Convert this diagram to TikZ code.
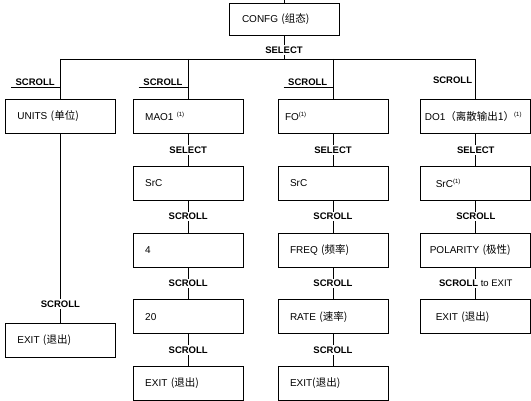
\documentclass[tikz,border=0pt]{standalone}
\usepackage{fontspec}
\setmainfont{Liberation Sans}
\newfontfamily\zhfont{Noto Sans CJK SC}
\usetikzlibrary{positioning}
\newcommand{\zh}[1]{{\zhfont\fontsize{10.5}{12}\selectfont #1}}
\newcommand{\fnmark}{\textsuperscript{\fontsize{6}{6}\selectfont(1)}}
\tikzset{
  box/.style={draw,line width=0.8pt,minimum width=110pt,minimum height=34pt,
              text width=86pt,inner xsep=0pt,align=left,font=\fontsize{10}{12}\selectfont},
  lbl/.style={fill=white,inner sep=1.5pt,font=\fontsize{9.5}{11}\selectfont\bfseries},
  link/.style={line width=0.8pt}
}

\begin{document}
\begin{tikzpicture}[x=1pt,y=1pt,node distance=32pt and 17pt]
  \useasboundingbox (0,0) rectangle (531,-401);
  \node[box,minimum height=32pt,text width=84pt] (confg) at (284,-19) {CONFG \zh{(组态)}};
  % first row
  \node[box,anchor=north west] (units) at (5,-99) {UNITS \zh{(单位)}};
  \node[box,right=17pt of units] (mao) {MAO1 \fnmark};
  \node[box,right=34pt of mao,text width=96pt] (fo) {FO\fnmark};
  \node[box,right=32pt of fo,text width=102pt] (do) {DO1\zh{（离散输出1）}\fnmark};
  % UNITS column
  \node[box,below=189pt of units] (unitsExit) {EXIT \zh{(退出)}};
  % MAO1 column
  \node[box,below=of mao] (maoSrc) {SrC};
  \node[box,below=of maoSrc] (maoLow) {4};
  \node[box,below=of maoLow] (maoHigh) {20};
  \node[box,below=of maoHigh] (maoExit) {EXIT \zh{(退出)}};
  % FO column
  \node[box,below=of fo] (foSrc) {SrC};
  \node[box,below=of foSrc] (foFreq) {FREQ \zh{(频率)}};
  \node[box,below=of foFreq] (foRate) {RATE \zh{(速率)}};
  \node[box,below=of foRate] (foExit) {EXIT\zh{(退出)}};
  % DO1 column
  \node[box,below=of do,text width=80pt] (doSrc) {SrC\fnmark};
  \node[box,below=of doSrc,text width=92pt] (doPol) {POLARITY \zh{(极性)}};
  \node[box,below=of doPol,text width=80pt] (doExit) {EXIT \zh{(退出)}};

  % top bus
  \coordinate (entry) at (confg.north |- 0,0);
  \draw[link] (entry) -- (confg);
  \coordinate (dropU) at (units.north |- 0,-59);
  \coordinate (dropM) at (mao.north |- 0,-59);
  \coordinate (dropF) at (fo.north |- 0,-59);
  \coordinate (dropD) at (do.north |- 0,-59);
  \draw[link] (dropU) -- (dropD);
  \draw[link] (confg) -- node[lbl,pos=0.62]{SELECT} (confg.south |- dropU);
  \foreach \d/\b in {dropU/units,dropM/mao,dropF/fo,dropD/do}
    \draw[link] (\d) -- (\b);
  \foreach \b/\n in {units/U,mao/M,fo/F}{
    \coordinate (ul\n) at (\b.north |- 0,-87);
    \node[lbl,above left=0pt and 4pt of ul\n] (scr\n) {SCROLL};
    \draw[link] ([xshift=-3pt]scr\n.south west) -- (ul\n);
  }
  \coordinate (ulD) at (do.north |- 0,-85);
  \node[lbl,above left=0pt and 2pt of ulD] (scrD) {SCROLL};

  % columns
  \draw[link] (units) -- node[lbl,pos=0.9]{SCROLL} (unitsExit);
  \draw[link] (mao) -- node[lbl]{SELECT} (maoSrc);
  \draw[link] (maoSrc) -- node[lbl]{SCROLL} (maoLow);
  \draw[link] (maoLow) -- node[lbl]{SCROLL} (maoHigh);
  \draw[link] (maoHigh) -- node[lbl]{SCROLL} (maoExit);
  \draw[link] (fo) -- node[lbl]{SELECT} (foSrc);
  \draw[link] (foSrc) -- node[lbl]{SCROLL} (foFreq);
  \draw[link] (foFreq) -- node[lbl]{SCROLL} (foRate);
  \draw[link] (foRate) -- node[lbl]{SCROLL} (foExit);
  \draw[link] (do) -- node[lbl]{SELECT} (doSrc);
  \draw[link] (doSrc) -- node[lbl]{SCROLL} (doPol);
  \draw[link] (doPol) -- node[lbl]{SCROLL \textnormal{to EXIT}} (doExit);
\end{tikzpicture}
\end{document}
